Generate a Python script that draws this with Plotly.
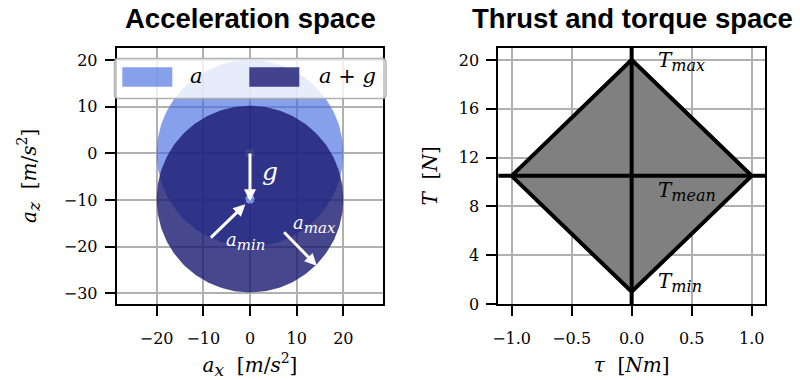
import numpy as np
import plotly.graph_objects as go

# ---- data ---------------------------------------------------------------
G = 9.81                      # gravity [m/s^2]
A_MAX = 20.0                  # largest reachable acceleration magnitude
A_MIN = 1.0                   # smallest reachable acceleration magnitude
disc_names = ["a", "a + g"]
disc_cx = [0.0, 0.0]
disc_cy = [0.0, -G]

# white arrows: tail -> tip in acceleration space
arrow_tail_x = [0.0, -8.7, 7.0]
arrow_tail_y = [0.3, -18.4, -16.6]
arrow_tip_x = [0.0, -1.0, 14.3]
arrow_tip_y = [-10.3, -10.9, -24.1]
arrow_labels = ["g", "min", "max"]
arrow_label_x = [4.3, -1.0, 13.9]
arrow_label_y = [-3.9, -18.9, -15.2]

# thrust / torque envelope
T_MIN, T_MAX = 1.0, 20.0
T_MEAN = 10.5
TAU_MAX = 1.0
env_tau = [-TAU_MAX, 0.0, TAU_MAX, 0.0, -TAU_MAX]
env_T = [T_MEAN, T_MAX, T_MEAN, T_MIN, T_MEAN]
t_label_names = ["max", "mean", "min"]
t_label_tau = [0.2, 0.2, 0.2]
t_label_T = [19.85, 9.25, 1.75]

acc_xticks = [-20, -10, 0, 10, 20]
acc_yticks = [-30, -20, -10, 0, 10, 20]
tau_ticks = [-1.0, -0.5, 0.0, 0.5, 1.0]
thrust_ticks = [0, 4, 8, 12, 16, 20]

# ---- style --------------------------------------------------------------
W, H = 800, 380
LIGHT = "rgba(65,105,225,0.63)"
DARK = "rgba(25,25,112,0.8)"
SERIF = "DejaVu Serif"
SANS_BOLD = "Liberation Sans"


def px_x(p):
    return p / W


def px_y(p):
    return 1 - p / H


def sub(text, size):
    # italic subscript kept a bit larger than plotly's default shrink
    return f"<sub><span style='font-size:{size}px'><i>{text}</i></span></sub>"


def annulus(cx, cy, r_in, r_out, n=240):
    t = np.linspace(0, 2 * np.pi, n)
    xo, yo = cx + r_out * np.cos(t), cy + r_out * np.sin(t)
    xi, yi = cx + r_in * np.cos(t[::-1]), cy + r_in * np.sin(t[::-1])
    return np.concatenate([xo, xi, xo[:1]]), np.concatenate([yo, yi, yo[:1]])


fig = go.Figure()

for name, cx, cy, col in zip(disc_names, disc_cx, disc_cy, [LIGHT, DARK]):
    xs, ys = annulus(cx, cy, A_MIN, A_MAX)
    fig.add_trace(go.Scatter(x=xs, y=ys, mode="lines", fill="toself",
                             fillcolor=col, line=dict(width=0),
                             name=name, hoverinfo="skip",
                             xaxis="x", yaxis="y"))

fig.add_trace(go.Scatter(x=env_tau, y=env_T, mode="lines", fill="toself",
                         fillcolor="#808080",
                         line=dict(color="black", width=4),
                         xaxis="x2", yaxis="y2", hoverinfo="skip"))

axis_common = dict(
    showline=True, linewidth=2, linecolor="black", mirror=True,
    ticks="outside", ticklen=10, tickwidth=2, tickcolor="black",
    showgrid=True, gridcolor="#b0b0b0", gridwidth=2, zeroline=False,
    tickfont=dict(family=SERIF, size=16, color="black"),
    automargin=False,
)
title_font = dict(family=SERIF, size=20, color="black")
x_common = dict(ticklabelstandoff=9)
y_common = dict(ticklabelstandoff=4)

fig.update_layout(
    width=W, height=H, margin=dict(l=0, r=0, t=0, b=0),
    paper_bgcolor="white", plot_bgcolor="white", showlegend=False,
    xaxis=dict(domain=[116.7 / W, 383.3 / W], range=[-28.56, 28.56],
               tickvals=acc_xticks, anchor="y",
               title=dict(text="<i>a</i>" + sub("x", 17) + "  [<i>m</i>/<i>s</i><sup>2</sup>]",
                          font=title_font, standoff=11),
               **x_common, **axis_common),
    yaxis=dict(domain=[px_y(304), px_y(47.7)], range=[-32.3, 22.64],
               tickvals=acc_yticks, anchor="x",
               title=dict(text="<i>a</i>" + sub("z", 17) + "  [<i>m</i>/<i>s</i><sup>2</sup>]",
                          font=title_font, standoff=22),
               **y_common, **axis_common),
    xaxis2=dict(domain=[498.3 / W, 765 / W], range=[-1.111, 1.111],
                tickvals=tau_ticks, tickformat=".1f", anchor="y2",
                title=dict(text="<i>τ</i>  [<i>Nm</i>]", font=title_font, standoff=11),
                **x_common, **axis_common),
    yaxis2=dict(domain=[px_y(304), px_y(47.7)], range=[0, 21],
                tickvals=thrust_ticks, anchor="x2",
                title=dict(text="<i>T</i>  [<i>N</i>]", font=title_font, standoff=16),
                **y_common, **axis_common),
)

# full-span reference lines through the envelope
fig.add_shape(type="line", xref="x2", yref="y2 domain", x0=0, x1=0, y0=0, y1=1,
              line=dict(color="black", width=4), layer="above")
fig.add_shape(type="line", xref="x2 domain", yref="y2", x0=0, x1=1, y0=T_MEAN, y1=T_MEAN,
              line=dict(color="black", width=4), layer="above")

# arrows in acceleration space
for tx, ty, hx, hy in zip(arrow_tail_x, arrow_tail_y, arrow_tip_x, arrow_tip_y):
    fig.add_annotation(x=hx, y=hy, ax=tx, ay=ty, xref="x", yref="y",
                       axref="x", ayref="y", text="", showarrow=True,
                       arrowhead=2, arrowsize=0.8, arrowwidth=3,
                       arrowcolor="white", standoff=0, startstandoff=0)

for lab, lx, ly in zip(arrow_labels, arrow_label_x, arrow_label_y):
    txt = "<i>g</i>" if lab == "g" else "<i>a</i>" + sub(lab, 15)
    size = 25 if lab == "g" else 18
    fig.add_annotation(x=lx, y=ly, xref="x", yref="y", text=txt, showarrow=False,
                       xanchor="center", yanchor="middle",
                       font=dict(family=SERIF, size=size, color="white"))

for lab, lx, ly in zip(t_label_names, t_label_tau, t_label_T):
    fig.add_annotation(x=lx, y=ly, xref="x2", yref="y2", xanchor="left",
                       yanchor="middle",
                       text="<i>T</i>" + sub(lab, 16), showarrow=False,
                       font=dict(family=SERIF, size=20, color="black"))

# legend box for the acceleration panel
r_x, r_y = 4 / W, 4 / H
lx0, lx1, ly0, ly1 = px_x(114.5), px_x(386), px_y(98.5), px_y(58.5)
frame = (f"M{lx0 + r_x},{ly0} L{lx1 - r_x},{ly0} Q{lx1},{ly0} {lx1},{ly0 + r_y} "
         f"L{lx1},{ly1 - r_y} Q{lx1},{ly1} {lx1 - r_x},{ly1} "
         f"L{lx0 + r_x},{ly1} Q{lx0},{ly1} {lx0},{ly1 - r_y} "
         f"L{lx0},{ly0 + r_y} Q{lx0},{ly0} {lx0 + r_x},{ly0} Z")
fig.add_shape(type="path", path=frame, xref="paper", yref="paper",
              fillcolor="rgba(255,255,255,0.8)",
              line=dict(color="rgba(170,170,170,0.9)", width=1.5), layer="above")
for (p0, p1), col in zip([(122.3, 172.3), (249.3, 299.3)], [LIGHT, DARK]):
    fig.add_shape(type="rect", xref="paper", yref="paper",
                  x0=px_x(p0), x1=px_x(p1), y0=px_y(86.7), y1=px_y(67.3),
                  fillcolor=col, line=dict(width=0), layer="above")
for name, cxp in zip(disc_names, [196, 347]):
    txt = "<i>a</i>" if name == "a" else "<i>a</i> + <i>g</i>"
    fig.add_annotation(x=px_x(cxp), y=px_y(76), xref="paper", yref="paper",
                       text=txt, showarrow=False, xanchor="center", yanchor="middle",
                       font=dict(family=SERIF, size=21, color="black"))

# panel titles
for text, cxp in [("Acceleration space", 250), ("Thrust and torque space", 632)]:
    fig.add_annotation(x=px_x(cxp), y=px_y(18), xref="paper", yref="paper",
                       text=f"<b>{text}</b>", showarrow=False,
                       xanchor="center", yanchor="middle",
                       font=dict(family=SANS_BOLD, size=27.5, color="black"))

fig.write_html("out.html")
